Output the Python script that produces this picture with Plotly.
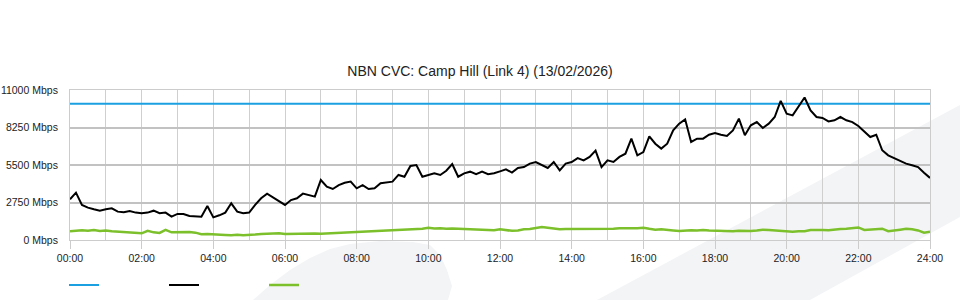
import plotly.graph_objects as go

# ---- data (10-minute samples, 00:00 .. 24:00) ----
hours = [i / 6 for i in range(145)]

download_mbps = [
    2980, 3470, 2570, 2370, 2250, 2150, 2250, 2320, 2080, 2030, 2130, 2010, 1960,
    2010, 2150, 1960, 2010, 1710, 1910, 1910, 1760, 1760, 1710, 2490, 1660,
    1810, 2010, 2690, 2080, 1960, 2010, 2570, 3060, 3400, 3130, 2860, 2570,
    2930, 3060, 3400, 3300, 3180, 4400, 3910, 3740, 4030, 4200, 4280, 3790,
    4030, 3740, 3790, 4160, 4200, 4280, 4770, 4640, 5430, 5500, 4640, 4770,
    4890, 4770, 5080, 5570, 4640, 4890, 5010, 4820, 5010, 4820, 4890, 5030,
    5180, 4940, 5280, 5350, 5600, 5720, 5480, 5280, 5720, 5110, 5600, 5720,
    6010, 5840, 6090, 6550, 5350, 5840, 5720, 6090, 6330, 7430, 6210, 6450,
    7600, 7060, 6700, 7060, 8040, 8530, 8850, 7190, 7430, 7430, 7720, 7850,
    7720, 7630, 8040, 8900, 7680, 8410, 8650, 8210, 8530, 9020, 10200, 9260,
    9140, 9750, 10450, 9510, 9020, 8950, 8700, 8780, 9020, 8780, 8650, 8360,
    7920, 7550, 7720, 6580, 6210, 6010, 5840, 5600, 5480, 5350, 4940, 4550,
]

upload_mbps = [
    650, 700, 720, 680, 730, 660, 700, 650, 620, 560, 540, 520, 490,
    680, 560, 520, 740, 560, 580, 590, 580, 540, 430, 440, 430,
    380, 360, 340, 390, 350, 360, 400, 440, 450, 460, 500, 440,
    450, 470, 440, 500, 470, 460, 480, 520, 560, 570, 600, 620,
    640, 650, 680, 700, 690, 720, 750, 760, 800, 790, 830, 900,
    840, 860, 820, 850, 830, 800, 810, 780, 760, 750, 720, 780,
    740, 670, 700, 780, 800, 900, 960, 900, 820, 790, 800, 800,
    790, 780, 800, 790, 800, 780, 820, 870, 840, 860, 870, 890,
    820, 760, 780, 720, 700, 660, 700, 720, 690, 740, 700, 690,
    650, 690, 640, 680, 650, 660, 700, 760, 740, 700, 660, 620,
    610, 650, 640, 730, 760, 740, 720, 780, 800, 830, 860, 920,
    740, 760, 800, 830, 640, 720, 760, 820, 790, 700, 540, 600,
]

capacity_hours = [0, 24]
capacity_mbps = [10000, 10000]

x_tickvals = [0, 2, 4, 6, 8, 10, 12, 14, 16, 18, 20, 22, 24]
x_ticktext = ["00:00", "02:00", "04:00", "06:00", "08:00", "10:00", "12:00",
              "14:00", "16:00", "18:00", "20:00", "22:00", "24:00"]
y_tickvals = [0, 2750, 5500, 8250, 11000]
y_ticktext = ["0 Mbps", "2750 Mbps", "5500 Mbps", "8250 Mbps", "11000 Mbps"]

title_text = "NBN CVC: Camp Hill (Link 4) (13/02/2026)"

fig = go.Figure()
fig.add_trace(go.Scatter(x=capacity_hours, y=capacity_mbps, mode="lines", name=" ",
                         line=dict(color="#1ba1e2", width=2)))
fig.add_trace(go.Scatter(x=hours, y=download_mbps, mode="lines", name=" ",
                         line=dict(color="#000000", width=2)))
fig.add_trace(go.Scatter(x=hours, y=upload_mbps, mode="lines", name=" ",
                         line=dict(color="#7cc02c", width=2.5)))

# light watermark shapes in the background (paper coordinates)
band = "M 0.6128,-0.4 L 1.0349,0.9 L 1.0349,0.1533 L 0.8605,-0.4 Z"
blob = ("M 0.2128,-0.4 L 0.2326,-0.3 L 0.2558,-0.2 L 0.2791,-0.12 "
        "L 0.3023,-0.06 L 0.3256,-0.0267 L 0.3605,-0.0067 L 0.3988,-0.0133 "
        "L 0.4186,-0.0333 L 0.4302,-0.1 L 0.4384,-0.2 L 0.4442,-0.3067 "
        "L 0.4395,-0.4 Z")
fig.add_shape(type="path", path=band, xref="paper", yref="paper",
              fillcolor="#f3f4f6", line=dict(width=0), layer="below")
fig.add_shape(type="path", path=blob, xref="paper", yref="paper",
              fillcolor="#f3f4f6", line=dict(width=0), layer="below")

font_family = "Liberation Sans, Arial, sans-serif"

fig.update_layout(
    width=960, height=300,
    margin=dict(l=70, r=30, t=90, b=60, autoexpand=False),
    paper_bgcolor="#ffffff",
    plot_bgcolor="rgba(0,0,0,0)",
    font=dict(family=font_family, size=10.5, color="#222222"),
    title=dict(text=title_text, x=0.5, xanchor="center", xref="container",
               y=1 - 71 / 300, yanchor="middle", yref="container",
               font=dict(family=font_family, size=14, color="#222222")),
    showlegend=True,
    legend=dict(orientation="h", xref="container", x=64 / 960, xanchor="left",
                yref="container", y=1 - 285 / 300, yanchor="middle",
                entrywidth=55, entrywidthmode="pixels",
                bgcolor="rgba(0,0,0,0)", font=dict(size=11)),
    xaxis=dict(range=[0, 24], tickvals=x_tickvals, ticktext=x_ticktext,
               automargin=False,
               showgrid=True, gridcolor="#cfcfcf", gridwidth=1,
               minor=dict(dtick=1, tick0=0, showgrid=True, gridcolor="#cfcfcf",
                          gridwidth=1),
               ticks="outside", ticklen=8, tickcolor="#cccccc",
               showline=True, linecolor="#cccccc", linewidth=1, mirror=True,
               zeroline=False, fixedrange=True),
    yaxis=dict(range=[0, 11000], tickvals=y_tickvals, ticktext=y_ticktext,
               automargin=False,
               showgrid=True, gridcolor="#c2c2c2", gridwidth=2,
               ticks="", ticklabelstandoff=9,
               showline=True, linecolor="#cccccc", linewidth=1, mirror=True,
               zeroline=False, fixedrange=True),
)

fig.write_html("out.html")
